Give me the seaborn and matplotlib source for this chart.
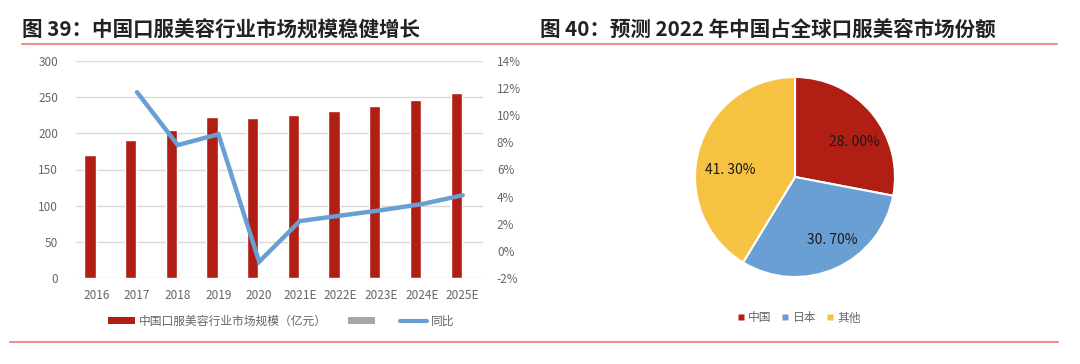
import numpy as np
import pandas as pd
import matplotlib
matplotlib.use("Agg")
import matplotlib.pyplot as plt
from matplotlib.patches import Patch
from matplotlib.lines import Line2D
from matplotlib.ticker import FuncFormatter
import seaborn as sns

# ---------------- data ----------------
years = ["2016", "2017", "2018", "2019", "2020", "2021E", "2022E", "2023E", "2024E", "2025E"]
market_size = [170, 191, 205, 223, 221, 225, 231, 238, 246, 256]
growth_years = ["2017", "2018", "2019", "2020", "2021E", "2022E", "2023E", "2024E", "2025E"]
growth = [0.117, 0.078, 0.086, -0.008, 0.022, 0.026, 0.030, 0.0345, 0.041]

pie_labels = ["中国", "日本", "其他"]
pie_values = [28.0, 30.7, 41.3]
pie_texts = ["28. 00%", "30. 70%", "41. 30%"]

bar_series = "中国口服美容行业市场规模（亿元）"
empty_series = ""
line_series = "同比"

title_left = "图 39：中国口服美容行业市场规模稳健增长"
title_right = "图 40：预测 2022 年中国占全球口服美容市场份额"

# ---------------- style ----------------
sns.set_theme(style="white")
plt.rcParams["font.family"] = ["Noto Sans CJK SC", "DejaVu Sans"]

RED = "#b01e14"
BLUE = "#6a9fd3"
YELLOW = "#f5c242"
GRAY = "#a6a6a6"
TICK = "#666666"
GRID = "#d9d9d9"
RULE = "#f0908a"

W, H = 1080, 364
fig = plt.figure(figsize=(W / 100, H / 100), dpi=100)
fig.patch.set_facecolor("white")

def fx(px):
    return px / W

def fy(py):
    return 1 - py / H

# ---------------- left chart ----------------
ax = fig.add_axes([fx(76), fy(278), fx(483 - 76), (278 - 61) / H])
df = pd.DataFrame({
    "year": years * 2,
    "value": market_size + [np.nan] * len(years),
    "series": [bar_series] * len(years) + ["gray"] * len(years),
})
sns.barplot(data=df, x="year", y="value", hue="series",
            hue_order=[bar_series, "gray"], order=years,
            palette=[RED, GRAY], width=0.63, gap=0.12, saturation=1,
            legend=False, ax=ax)
ax.set_xlim(-0.5, len(years) - 0.5)
ax.set_ylim(0, 300)
ax.set_yticks(range(0, 301, 50))
ax.grid(axis="y", color=GRID, linewidth=1)
ax.set_axisbelow(True)
for s in ax.spines.values():
    s.set_visible(False)
ax.set_xlabel("")
ax.set_ylabel("")
ax.tick_params(axis="both", colors=TICK, labelsize=8.5, length=0)
ax.tick_params(axis="x", pad=8)
ax.tick_params(axis="y", pad=13)

ax2 = ax.twinx()
gx = [years.index(y) for y in growth_years]
sns.lineplot(x=gx, y=growth, color=BLUE, linewidth=3.2, ax=ax2,
             solid_joinstyle="miter")
ax2.set_ylim(-0.02, 0.14)
ax2.set_yticks(np.arange(-0.02, 0.141, 0.02))
ax2.yaxis.set_major_formatter(FuncFormatter(lambda v, p: f"{v*100:.0f}%"))
for s in ax2.spines.values():
    s.set_visible(False)
ax2.tick_params(axis="y", colors=TICK, labelsize=8.5, length=0, pad=10)
ax2.set_xlim(-0.5, len(years) - 0.5)

handles = [Patch(facecolor=RED, edgecolor="none"),
           Patch(facecolor=GRAY, edgecolor="none"),
           Line2D([0], [0], color=BLUE, linewidth=3)]
leg = ax.legend(handles, [bar_series, empty_series, line_series],
                loc="center", bbox_to_anchor=(fx(281), fy(321)),
                bbox_transform=fig.transFigure, ncol=3, frameon=False,
                fontsize=8.5, handlelength=2.3, handleheight=0.5,
                handletextpad=0.3, columnspacing=1.8)
for t in leg.get_texts():
    t.set_color(TICK)

# ---------------- right chart (pie) ----------------
pax = fig.add_axes([fx(695), fy(277), fx(200), 200 / H])
wedges, _ = pax.pie(pie_values, colors=[RED, BLUE, YELLOW], startangle=90,
                    counterclock=False,
                    wedgeprops=dict(edgecolor="white", linewidth=1.5))
pax.set_xlim(-1.0, 1.0)
pax.set_ylim(-1.0, 1.0)
pax.set_aspect("equal")
dists = [0.69, 0.73, 0.65]
offs = [-9, 6.4, 9.6]
for w, txt, d, o in zip(wedges, pie_texts, dists, offs):
    ang = np.deg2rad((w.theta1 + w.theta2) / 2 + o)
    pax.text(d * np.cos(ang), d * np.sin(ang), txt, ha="center", va="center",
             fontsize=10, color="#1a1a1a")

ph = [Line2D([0], [0], marker="s", linestyle="none", markersize=4.5,
             markerfacecolor=c, markeredgecolor="none") for c in [RED, BLUE, YELLOW]]
pleg = pax.legend(ph, pie_labels, loc="center", bbox_to_anchor=(fx(799), fy(318)),
                  bbox_transform=fig.transFigure, ncol=3, frameon=False,
                  fontsize=8.5, handlelength=0.6, handletextpad=0.3,
                  columnspacing=0.9)
for t in pleg.get_texts():
    t.set_color(TICK)

# ---------------- titles and rules ----------------
fig.text(fx(22), fy(30), title_left, fontsize=14.8, fontweight="bold",
         ha="left", va="center", color="#222222")
fig.text(fx(540), fy(30), title_right, fontsize=14.8, fontweight="bold",
         ha="left", va="center", color="#222222")
fig.add_artist(Line2D([fx(22), fx(1057)], [fy(44), fy(44)], color=RULE, linewidth=1.5))
fig.add_artist(Line2D([fx(10), fx(1058)], [fy(342), fy(342)], color=RULE, linewidth=1.5))

fig.savefig("out.png", dpi=100, facecolor="white")
